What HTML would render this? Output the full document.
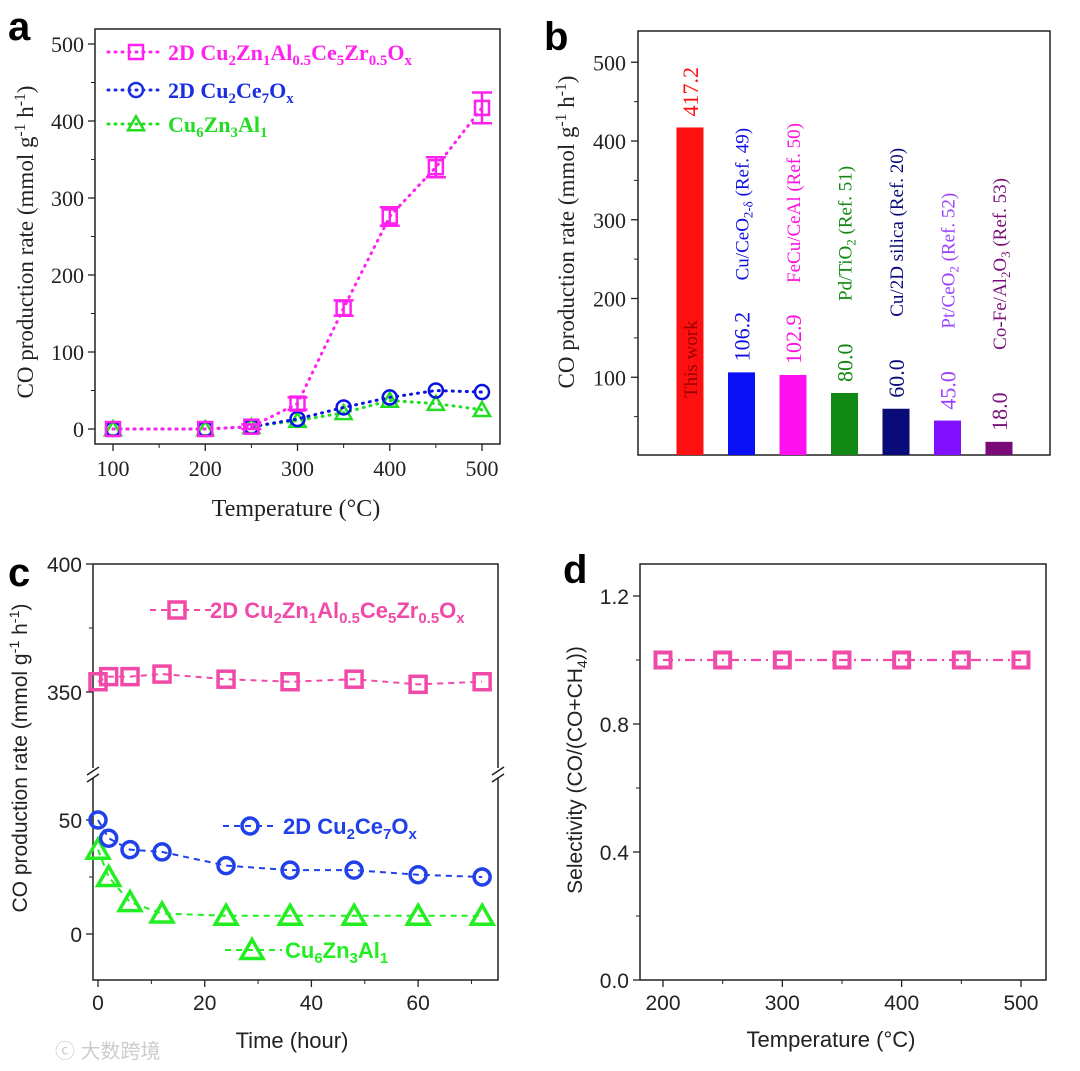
<!DOCTYPE html>
<html><head><meta charset="utf-8"><style>
html,body{margin:0;padding:0;background:#fff;}
svg{display:block;}
.serif{font-family:"Liberation Serif",serif;}
.sans{font-family:"Liberation Sans","Noto Sans CJK SC",sans-serif;}
</style></head><body>
<svg id="fig" width="1080" height="1071" viewBox="0 0 1080 1071" xmlns="http://www.w3.org/2000/svg">
<rect x="0" y="0" width="1080" height="1071" fill="#fff"/>
<g class="sans" font-weight="bold" font-size="40" fill="#000">
<text x="8" y="40">a</text>
<text x="544" y="50">b</text>
<text x="8" y="586">c</text>
<text x="563" y="583">d</text>
</g>
<text class="sans" x="55" y="1058" font-size="20" fill="#ccc">ⓒ 大数跨境</text>
<g id="ga"></g><g id="gb"></g><g id="gc"></g><g id="gd"></g>
</svg>
<script>
// Panel a data
const aTemps = [100, 200, 250, 300, 350, 400, 450, 500];
const aPink = [0, 0, 3, 33, 157, 276, 340, 417];
const aPinkErr = [0, 0, 3, 8, 10, 12, 13, 20];
const aBlue = [0, 0, 3, 13, 28, 41, 50, 48];
const aGreen = [0, 0, 3, 11, 21, 37, 33, 25];
const aYTicks = [0, 100, 200, 300, 400, 500];
const aXTicks = [100, 200, 300, 400, 500];
// Panel b data
const bNames = ["This work", "Cu/CeO2-δ (Ref. 49)", "FeCu/CeAl (Ref. 50)", "Pd/TiO2 (Ref. 51)", "Cu/2D silica (Ref. 20)", "Pt/CeO2 (Ref. 52)", "Co-Fe/Al2O3 (Ref. 53)"];
const bValues = [417.2, 106.2, 102.9, 80.0, 60.0, 45.0, 18.0];
const bYTicks = [100, 200, 300, 400, 500];
// Panel c data
const cTimes = [0, 2, 6, 12, 24, 36, 48, 60, 72];
const cPink = [354, 356, 356, 357, 355, 354, 355, 353, 354];
const cBlue = [50, 42, 37, 36, 30, 28, 28, 26, 25];
const cGreen = [37, 25, 14, 9, 8, 8, 8, 8, 8];
const cYTicksLow = [0, 50];
const cYTicksHigh = [350, 400];
const cXTicks = [0, 20, 40, 60];
// Panel d data
const dTemps = [200, 250, 300, 350, 400, 450, 500];
const dSel = [1, 1, 1, 1, 1, 1, 1];
const dYTicks = [0.0, 0.4, 0.8, 1.2];
const dXTicks = [200, 300, 400, 500];

const NS = "http://www.w3.org/2000/svg";
function mk(parent, tag, attrs, text) {
  const e = document.createElementNS(NS, tag);
  for (const k in attrs) e.setAttribute(k, attrs[k]);
  if (text !== undefined) e.textContent = text;
  parent.appendChild(e);
  return e;
}
function rich(parent, x, y, parts, attrs) {
  const t = mk(parent, "text", Object.assign({x: x, y: y}, attrs));
  let prev = "n", prevSh = 5;
  parts.forEach(p => {
    const s = mk(t, "tspan", {});
    s.textContent = p[0];
    let dy = 0;
    const sh = p[2] || 5;
    if (p[1] === "sub") dy = (prev === "n" ? sh : 0);
    else if (p[1] === "sup") dy = (prev === "n" ? -8 : 0);
    else dy = (prev === "sub" ? -prevSh : prev === "sup" ? 8 : 0);
    if (dy) s.setAttribute("dy", dy);
    if (p[1] !== "n") s.setAttribute("font-size", "0.68em");
    prev = p[1];
    prevSh = sh;
  });
  return t;
}
function marker(g, type, x, y, color, size, sw) {
  let e;
  if (type === "sq") e = mk(g, "rect", {x: x - size, y: y - size, width: 2 * size, height: 2 * size, fill: "none", stroke: color, "stroke-width": sw});
  else if (type === "ci") e = mk(g, "circle", {cx: x, cy: y, r: size, fill: "none", stroke: color, "stroke-width": sw});
  else e = mk(g, "polygon", {points: `${x},${y - size * 1.1} ${x - size * 1.15},${y + size * 0.9} ${x + size * 1.15},${y + size * 0.9}`, fill: "none", stroke: color, "stroke-width": sw, "stroke-linejoin": "miter"});
  return e;
}

// ---------- Panel a ----------
(function () {
  const g = document.getElementById("ga");
  
  
  const X = v => 113 + (v - 100) * 0.9225;
  const Y = v => 429 - v * 0.77;
  const fr = mk(g, "rect", {x: 95, y: 29, width: 405, height: 415, fill: "none", stroke: "#222", "stroke-width": 1.5});
  
  
  aYTicks.forEach(v => {
    mk(g, "line", {x1: 88, x2: 95, y1: Y(v), y2: Y(v), stroke: "#222", "stroke-width": 1.3});
    if (v < 500) mk(g, "line", {x1: 91, x2: 95, y1: Y(v + 50), y2: Y(v + 50), stroke: "#222", "stroke-width": 1});
    const t = mk(g, "text", {x: 84, y: Y(v) + 8, "text-anchor": "end", "font-size": 22, class: "serif", fill: "#222"}, v);
    
    
  });
  aXTicks.forEach(v => {
    mk(g, "line", {x1: X(v), x2: X(v), y1: 444, y2: 451, stroke: "#222", "stroke-width": 1.3});
    if (v < 500) mk(g, "line", {x1: X(v + 50), x2: X(v + 50), y1: 444, y2: 448, stroke: "#222", "stroke-width": 1});
    const t = mk(g, "text", {x: X(v), y: 476, "text-anchor": "middle", "font-size": 22, class: "serif", fill: "#222"}, v);
    
    
  });
  const xt = mk(g, "text", {x: 296, y: 516, "text-anchor": "middle", "font-size": 24, class: "serif", fill: "#222"}, "Temperature (°C)");
  
  
  const yt = rich(g, 0, 0, [["CO production rate (mmol g", "n"], ["-1", "sup"], [" h", "n"], ["-1", "sup"], [")", "n"]], {"text-anchor": "middle", "font-size": 23, class: "serif", fill: "#222", transform: "translate(33,242) rotate(-90)"});
  
  
  const series = [
    {d: aGreen, c: "#22dd22", m: "tri", n: "series-cu6zn3al1"},
    {d: aBlue, c: "#0a14e0", m: "ci", n: "series-2d-cu2ce7ox"},
    {d: aPink, c: "#ff22ee", m: "sq", n: "series-2d-cu2zn1al-ce5zr"}
  ];
  series.forEach(s => {
    const sg = mk(g, "g", {});
    
    
    mk(sg, "polyline", {points: s.d.map((v, i) => X(aTemps[i]) + "," + Y(v)).join(" "), fill: "none", stroke: s.c, "stroke-width": 3, "stroke-dasharray": "1 6", "stroke-linecap": "round"});
    s.d.forEach((v, i) => {
      if (s.m === "sq" && aPinkErr[i] > 2) {
        const e = aPinkErr[i] * 0.77;
        const eb = mk(sg, "path", {d: `M${X(aTemps[i])},${Y(v) - e}V${Y(v) + e}M${X(aTemps[i]) - 10},${Y(v) - e}h20M${X(aTemps[i]) - 10},${Y(v) + e}h20`, stroke: s.c, "stroke-width": 2.5, fill: "none"});
        
        
      }
      const mm = marker(sg, s.m, X(aTemps[i]), Y(v), s.c, 7, 2.5);
      
      
    });
  });
  const legs = [
    {y: 52, c: "#ff22ee", m: "sq", parts: [["2D Cu", "n"], ["2", "sub"], ["Zn", "n"], ["1", "sub"], ["Al", "n"], ["0.5", "sub"], ["Ce", "n"], ["5", "sub"], ["Zr", "n"], ["0.5", "sub"], ["O", "n"], ["x", "sub"]]},
    {y: 90, c: "#1a2ee0", m: "ci", parts: [["2D Cu", "n"], ["2", "sub"], ["Ce", "n"], ["7", "sub"], ["O", "n"], ["x", "sub"]]},
    {y: 124, c: "#22dd22", m: "tri", parts: [["Cu", "n"], ["6", "sub"], ["Zn", "n"], ["3", "sub"], ["Al", "n"], ["1", "sub"]]}
  ];
  legs.forEach(l => {
    const lg = mk(g, "g", {});
    
    
    mk(lg, "line", {x1: 108, x2: 162, y1: l.y, y2: l.y, stroke: l.c, "stroke-width": 3, "stroke-dasharray": "1 6", "stroke-linecap": "round"});
    marker(lg, l.m, 136, l.y, l.c, 7, 2.5);
    rich(lg, 168, l.y + 8, l.parts, {"font-size": 22, "font-weight": "bold", class: "serif", fill: l.c});
  });
})();

// ---------- Panel b ----------
(function () {
  const g = document.getElementById("gb");
  
  
  const Y = v => 456 - v * 0.7875;
  const X = i => 690 + i * 51.5;
  const colors = ["#ff1010", "#0a10f5", "#ff10f0", "#118811", "#0a0a78", "#8010ff", "#7a0a7a"];
  const tcolors = ["#ff1010", "#1010e0", "#ff10e0", "#118811", "#0a0a78", "#9a40ff", "#7a107a"];
  const fr = mk(g, "rect", {x: 638, y: 31, width: 412, height: 424, fill: "none", stroke: "#222", "stroke-width": 1.5});
  
  
  bYTicks.forEach(v => {
    mk(g, "line", {x1: 631, x2: 638, y1: Y(v), y2: Y(v), stroke: "#222", "stroke-width": 1.3});
    mk(g, "line", {x1: 634, x2: 638, y1: Y(v - 50), y2: Y(v - 50), stroke: "#222", "stroke-width": 1});
    const t = mk(g, "text", {x: 626, y: Y(v) + 8, "text-anchor": "end", "font-size": 22, class: "serif", fill: "#222"}, v);
    
    
  });
  const yt = rich(g, 0, 0, [["CO production rate (mmol g", "n"], ["-1", "sup"], [" h", "n"], ["-1", "sup"], [")", "n"]], {"text-anchor": "middle", "font-size": 23, class: "serif", fill: "#222", transform: "translate(574,232) rotate(-90)"});
  
  
  const nameParts = [
    null,
    [["Cu/CeO", "n"], ["2-δ", "sub", 4], [" (Ref. 49)", "n"]],
    [["FeCu/CeAl (Ref. 50)", "n"]],
    [["Pd/TiO", "n"], ["2", "sub", 4], [" (Ref. 51)", "n"]],
    [["Cu/2D silica (Ref. 20)", "n"]],
    [["Pt/CeO", "n"], ["2", "sub", 4], [" (Ref. 52)", "n"]],
    [["Co-Fe/Al", "n"], ["2", "sub", 4], ["O", "n"], ["3", "sub", 4], [" (Ref. 53)", "n"]]
  ];
  bValues.forEach((v, i) => {
    const b = mk(g, "rect", {x: X(i) - 13.5, y: Y(v), width: 27, height: 455 - Y(v), fill: colors[i]});
    
    
    const vt = mk(g, "text", {"font-size": 22, class: "serif", fill: tcolors[i], transform: `translate(${X(i) + 8},${Y(v) - 11}) rotate(-90)`}, v.toFixed(1));
    
    
    if (i === 0) {
      const nt = mk(g, "text", {"font-size": 19, class: "serif", fill: "#900", transform: `translate(${X(i) + 7},398) rotate(-90)`}, bNames[i]);
      
      
    } else {
      const nt = rich(g, 0, 0, nameParts[i], {"font-size": 19, class: "serif", fill: tcolors[i], transform: `translate(${X(i) + 7},${Y(v) - 92}) rotate(-90)`});
      
      
    }
  });
})();

// ---------- Panel c ----------
(function () {
  const g = document.getElementById("gc");
  
  
  const X = v => 98 + v * 5.335;
  const Ylo = v => 934 - v * 2.28;
  const Yhi = v => 692 - (v - 350) * 2.56;
  mk(g, "path", {d: "M93,564H498V768M498,778V980H93V778M93,768V564", fill: "none", stroke: "#222", "stroke-width": 1.5});
  mk(g, "path", {d: "M87,775l12,-8M87,782l12,-8M492,775l12,-8M492,782l12,-8", stroke: "#222", "stroke-width": 1.5});
  const ticks = [];
  cYTicksLow.forEach(v => ticks.push([Ylo(v), v]));
  cYTicksHigh.forEach(v => ticks.push([Yhi(v), v]));
  ticks.forEach(tk => {
    mk(g, "line", {x1: 86, x2: 93, y1: tk[0], y2: tk[0], stroke: "#222", "stroke-width": 1.3});
    const t = mk(g, "text", {x: 82, y: tk[0] + 8, "text-anchor": "end", "font-size": 21, class: "sans", fill: "#222"}, tk[1]);
    
    
  });
  [Ylo(25), Yhi(375)].forEach(y => mk(g, "line", {x1: 89, x2: 93, y1: y, y2: y, stroke: "#222", "stroke-width": 1}));
  cXTicks.forEach(v => {
    mk(g, "line", {x1: X(v), x2: X(v), y1: 980, y2: 987, stroke: "#222", "stroke-width": 1.3});
    mk(g, "line", {x1: X(v + 10), x2: X(v + 10), y1: 980, y2: 984, stroke: "#222", "stroke-width": 1});
    const t = mk(g, "text", {x: X(v), y: 1010, "text-anchor": "middle", "font-size": 21, class: "sans", fill: "#222"}, v);
    
    
  });
  const xt = mk(g, "text", {x: 292, y: 1048, "text-anchor": "middle", "font-size": 22, class: "sans", fill: "#222"}, "Time (hour)");
  
  
  const yt = rich(g, 0, 0, [["CO production rate (mmol g", "n"], ["-1", "sup"], [" h", "n"], ["-1", "sup"], [")", "n"]], {"text-anchor": "middle", "font-size": 21, class: "sans", fill: "#222", transform: "translate(27,758) rotate(-90)"});
  
  
  const series = [
    {d: cGreen, Y: Ylo, c: "#22ee22", m: "tri", n: "series-cu6zn3al1"},
    {d: cBlue, Y: Ylo, c: "#2040e8", m: "ci", n: "series-2d-cu2ce7ox"},
    {d: cPink, Y: Yhi, c: "#f04aa8", m: "sq", n: "series-2d-cu2zn1al-ce5zr"}
  ];
  series.forEach(s => {
    const sg = mk(g, "g", {});
    
    
    mk(sg, "polyline", {points: s.d.map((v, i) => X(cTimes[i]) + "," + s.Y(v)).join(" "), fill: "none", stroke: s.c, "stroke-width": 2, "stroke-dasharray": "6 5"});
    s.d.forEach((v, i) => {
      const mm = marker(sg, s.m, X(cTimes[i]), s.Y(v), s.c, s.m === "tri" ? 9.5 : 8, 3.5);
      
      
    });
  });
  const legs = [
    {y: 610, x1: 150, x2: 212, mx: 177, tx: 210, c: "#f04aa8", m: "sq", parts: [["2D Cu", "n"], ["2", "sub"], ["Zn", "n"], ["1", "sub"], ["Al", "n"], ["0.5", "sub"], ["Ce", "n"], ["5", "sub"], ["Zr", "n"], ["0.5", "sub"], ["O", "n"], ["x", "sub"]]},
    {y: 826, x1: 223, x2: 278, mx: 250, tx: 283, c: "#2040e8", m: "ci", parts: [["2D Cu", "n"], ["2", "sub"], ["Ce", "n"], ["7", "sub"], ["O", "n"], ["x", "sub"]]},
    {y: 950, x1: 225, x2: 282, mx: 252, tx: 285, c: "#22ee22", m: "tri", parts: [["Cu", "n"], ["6", "sub"], ["Zn", "n"], ["3", "sub"], ["Al", "n"], ["1", "sub"]]}
  ];
  legs.forEach(l => {
    const lg = mk(g, "g", {});
    
    
    mk(lg, "line", {x1: l.x1, x2: l.x2, y1: l.y, y2: l.y, stroke: l.c, "stroke-width": 2, "stroke-dasharray": "6 5"});
    marker(lg, l.m, l.mx, l.y, l.c, l.m === "tri" ? 9.5 : 8, 3.5);
    rich(lg, l.tx, l.y + 8, l.parts, {"font-size": 22, "font-weight": "bold", class: "sans", fill: l.c});
  });
})();

// ---------- Panel d ----------
(function () {
  const g = document.getElementById("gd");
  
  
  const X = v => 663 + (v - 200) * 1.1933;
  const Y = v => 980 - v * 320;
  const fr = mk(g, "rect", {x: 640, y: 564, width: 406, height: 416, fill: "none", stroke: "#222", "stroke-width": 1.5});
  
  
  dYTicks.forEach(v => {
    mk(g, "line", {x1: 633, x2: 640, y1: Y(v), y2: Y(v), stroke: "#222", "stroke-width": 1.3});
    if (v < 1.2) mk(g, "line", {x1: 636, x2: 640, y1: Y(v + 0.2), y2: Y(v + 0.2), stroke: "#222", "stroke-width": 1});
    const t = mk(g, "text", {x: 629, y: Y(v) + 8, "text-anchor": "end", "font-size": 21, class: "sans", fill: "#222"}, v.toFixed(1));
    
    
  });
  dXTicks.forEach(v => {
    mk(g, "line", {x1: X(v), x2: X(v), y1: 980, y2: 987, stroke: "#222", "stroke-width": 1.3});
    if (v < 500) mk(g, "line", {x1: X(v + 50), x2: X(v + 50), y1: 980, y2: 984, stroke: "#222", "stroke-width": 1});
    const t = mk(g, "text", {x: X(v), y: 1010, "text-anchor": "middle", "font-size": 21, class: "sans", fill: "#222"}, v);
    
    
  });
  const xt = mk(g, "text", {x: 831, y: 1047, "text-anchor": "middle", "font-size": 22, class: "sans", fill: "#222"}, "Temperature (°C)");
  
  
  const yt = rich(g, 0, 0, [["Selectivity (CO/(CO+CH", "n"], ["4", "sub"], ["))", "n"]], {"text-anchor": "middle", "font-size": 21, class: "sans", fill: "#222", transform: "translate(582,770) rotate(-90)"});
  
  
  const sg = mk(g, "g", {});
  
  
  mk(sg, "polyline", {points: dSel.map((v, i) => X(dTemps[i]) + "," + Y(v)).join(" "), fill: "none", stroke: "#f04aa8", "stroke-width": 2.2, "stroke-dasharray": "10 5 2 5"});
  dSel.forEach((v, i) => {
    const mm = marker(sg, "sq", X(dTemps[i]), Y(v), "#f04aa8", 7.5, 4);
    
    
  });
})();
</script>
</body></html>
